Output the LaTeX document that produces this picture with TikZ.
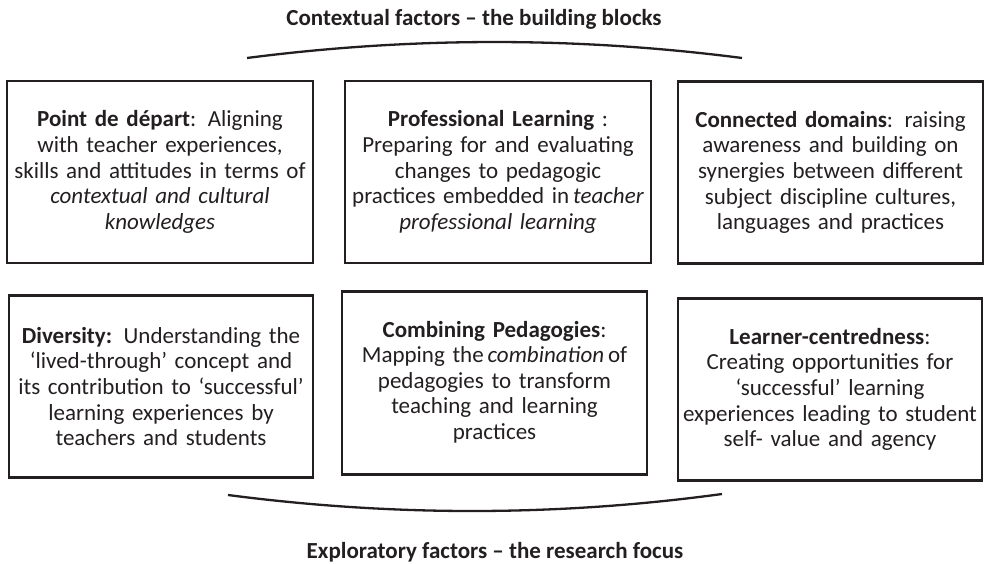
\documentclass[tikz,border=0pt]{standalone}
\usepackage{fontspec}
\setmainfont{Carlito}
\definecolor{ink}{HTML}{231F20}
\begin{document}
\begin{tikzpicture}[x=1pt,y=-1pt,
  box/.style={draw=ink, line width=2.6pt, rectangle, inner sep=0pt, align=center,
    text=ink, text width=303pt, font=\fontsize{23}{25.6}\selectfont},
  title/.style={text=ink, font=\fontsize{23}{26}\selectfont\bfseries, inner sep=0pt, anchor=base},
  arc/.style={draw=ink, line width=2.3pt}]
\useasboundingbox (0,0) rectangle (984,564);

\node[title] (toptitle) at (474,25.5) {Contextual factors – the building blocks};
\node[title] (bottitle) at (495,558) {Exploratory factors – the research focus};

\node[box, minimum width=306pt, minimum height=182pt] (b1) at (160,172)
  {\textbf{Point de départ}: Aligning\\ with teacher experiences,\\ skills and attitudes in terms of\\ \textit{contextual and cultural}\\ \textit{knowledges}};
\node[box, minimum width=306pt, minimum height=182pt] (b2) at (498,172)
  {\textbf{Professional Learning} :\\ Preparing for and evaluating\\ changes to pedagogic\\ practices embedded in\,\textit{teacher}\\ \textit{professional learning}};
\node[box, minimum width=305pt, minimum height=182pt] (b3) at (830.5,172.5)
  {\textbf{Connected domains}: raising\\ awareness and building on\\ synergies between different\\ subject discipline cultures,\\ languages and practices};
\node[box, minimum width=304pt, minimum height=182pt] (b4) at (161,386.5)
  {\textbf{Diversity:} Understanding the\\ ‘lived-through’ concept and\\ its contribution to ‘successful’\\ learning experiences by\\ teachers and students};
\node[box, minimum width=305pt, minimum height=183pt] (b5) at (494.5,383)
  {\textbf{Combining Pedagogies}:\\ Mapping the\,\textit{combination}\,of\\ pedagogies to transform\\ teaching and learning\\ practices\\[-20pt] \mbox{}};
\node[box, minimum width=304pt, minimum height=182pt] (b6) at (830,389.5)
  {\textbf{Learner-centredness}:\\ Creating opportunities for\\ ‘successful’ learning\\ experiences leading to student\\ self- value and agency};

\coordinate (ta) at (247,58);
\coordinate (tb) at (742,58);
\coordinate (ba) at (228,495);
\coordinate (bb) at (722,494);
\draw[arc] (ta) .. controls (412,36.7) and (577,36.7) .. (tb);
\draw[arc] (ba) .. controls (393,516.5) and (557,516.5) .. (bb);
\end{tikzpicture}
\end{document}
